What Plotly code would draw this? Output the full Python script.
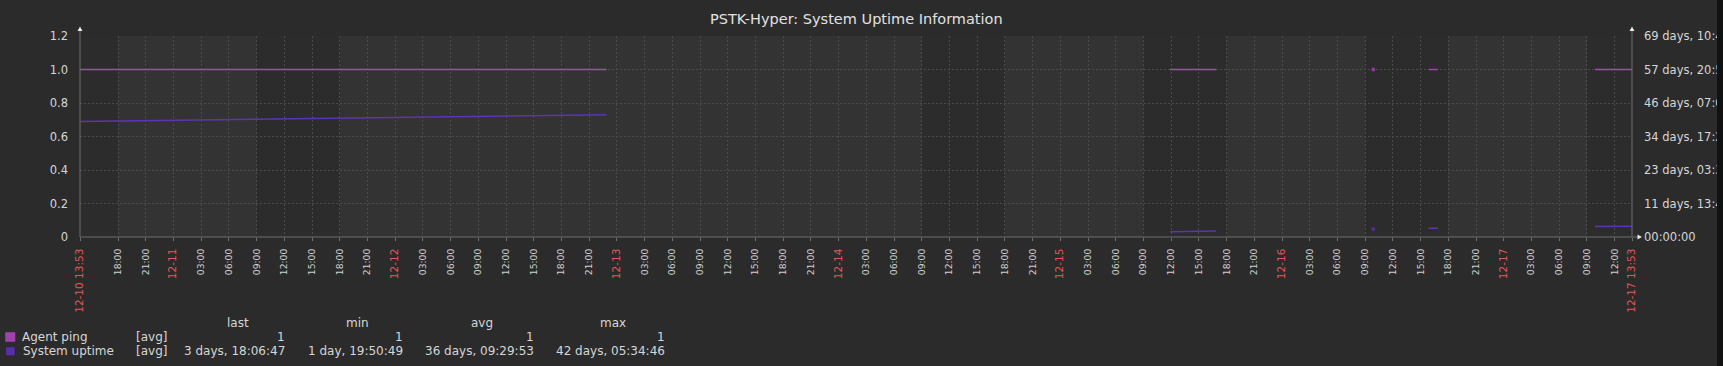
import plotly.graph_objects as go
import pandas as pd

# ---------------- data ----------------
TITLE = "PSTK-Hyper: System Uptime Information"
RANGE_START = "2023-12-10 13:53"
RANGE_END = "2023-12-17 13:53"

ping_time = ["2023-12-10 13:53", "2023-12-12 22:53", "2023-12-14 00:00",
             "2023-12-15 11:53", "2023-12-15 16:53", "2023-12-16 00:00",
             "2023-12-16 09:53", "2023-12-16 12:00",
             "2023-12-16 15:53", "2023-12-16 16:53", "2023-12-17 00:00",
             "2023-12-17 09:53", "2023-12-17 13:53"]
ping_value = [1, 1, None, 1, 1, None, 1, None, 1, 1, None, 1, 1]

uptime_time = ping_time
uptime_value = [3444286, 3649486, None, 157849, 175849, None, 237000, None,
                258000, 261600, None, 310007, 324407]  # seconds

shaded_days = ["2023-12-10", "2023-12-11", "2023-12-14", "2023-12-15",
               "2023-12-16", "2023-12-17"]

left_ticks = [0, 0.2, 0.4, 0.6, 0.8, 1.0, 1.2]
left_tick_labels = ["0", "0.2", "0.4", "0.6", "0.8", "1.0", "1.2"]
right_ticks = [0, 1000000, 2000000, 3000000, 4000000, 5000000, 6000000]

legend_names = ["Agent ping", "System uptime"]
legend_func = ["[avg]", "[avg]"]
stat_headers = ["last", "min", "avg", "max"]
stat_ping = ["1", "1", "1", "1"]
stat_uptime = ["3 days, 18:06:47", "1 day, 19:50:49", "36 days, 09:29:53", "42 days, 05:34:46"]

# ---------------- styling ----------------
FONT = "DejaVu Sans"
PAGE_BG = "#2b2b2b"
PLOT_BG = "#333333"
SHADE = "#2c2c2c"
GRID = "#4b4b4b"
AXIS = "#6e6e6e"
TXT = "#d6d6d6"
RED = "#e05858"
PING_C = "#b43fc6"
UP_C = "#5e33b6"
PING_LEG = "#9f42ae"
UP_LEG = "#5530a4"

W, H = 1723, 366
PL, PR, PT, PB = 80, 1632, 36, 237


def px(x):
    return (x - PL) / (PR - PL)


def py(y):
    return (PB - y) / (PB - PT)


def fmt_uptime(s):
    s = int(s)
    if s == 0:
        return "00:00:00"
    d, r = divmod(s, 86400)
    h, r = divmod(r, 3600)
    m = r // 60
    return f"{d} days, {h:02d}:{m:02d}"


def iso_sizes(vals):
    out = []
    for i, v in enumerate(vals):
        prev_none = i == 0 or vals[i - 1] is None
        next_none = i == len(vals) - 1 or vals[i + 1] is None
        out.append(3.5 if (v is not None and prev_none and next_none) else 0)
    return out


# x ticks
tick_times = [pd.Timestamp(RANGE_START)] + list(
    pd.date_range("2023-12-10 18:00", "2023-12-17 12:00", freq="3h")) + [pd.Timestamp(RANGE_END)]
tick_text = []
for i, t in enumerate(tick_times):
    if i == 0 or i == len(tick_times) - 1:
        tick_text.append(f'<span style="color:{RED};font-size:10.5px">{t.strftime("%m-%d %H:%M")}</span>')
    elif t.hour == 0 and t.minute == 0:
        tick_text.append(f'<span style="color:{RED};font-size:10.5px">{t.strftime("%m-%d")}</span>')
    else:
        tick_text.append(t.strftime("%H:%M"))

fig = go.Figure()

fig.add_trace(go.Scatter(
    x=ping_time, y=ping_value, mode="lines+markers", name=legend_names[0],
    line=dict(color=PING_C, width=1.3),
    marker=dict(symbol="square", size=iso_sizes(ping_value), color=PING_C, line=dict(width=0)),
    connectgaps=False, showlegend=False, hoverinfo="skip"))
fig.add_trace(go.Scatter(
    x=uptime_time, y=uptime_value, mode="lines+markers", name=legend_names[1], yaxis="y2",
    line=dict(color=UP_C, width=1.5),
    marker=dict(symbol="square", size=iso_sizes(uptime_value), color=UP_C, line=dict(width=0)),
    connectgaps=False, showlegend=False, hoverinfo="skip"))

shapes = []
# work-period shading
for d in shaded_days:
    s = max(pd.Timestamp(d) + pd.Timedelta(hours=9), pd.Timestamp(RANGE_START))
    e = min(pd.Timestamp(d) + pd.Timedelta(hours=18), pd.Timestamp(RANGE_END))
    shapes.append(dict(type="rect", xref="x", yref="paper", x0=s, x1=e, y0=0, y1=1,
                       fillcolor=SHADE, line=dict(width=0), layer="below"))

# axis lines with arrows
shapes += [
    dict(type="line", xref="paper", yref="paper", x0=0, x1=0, y0=0, y1=py(31),
         line=dict(color=AXIS, width=1)),
    dict(type="line", xref="paper", yref="paper", x0=1, x1=1, y0=0, y1=py(31),
         line=dict(color=AXIS, width=1)),
    dict(type="line", xref="paper", yref="paper", x0=0, x1=px(1638), y0=0, y1=0,
         line=dict(color=AXIS, width=1)),
    dict(type="path", xref="paper", yref="paper",
         path=f"M {px(77.5)},{py(31)} L {px(82.5)},{py(31)} L {px(80)},{py(26.5)} Z",
         fillcolor="#e8e8e8", line=dict(width=0)),
    dict(type="path", xref="paper", yref="paper",
         path=f"M {px(1629.5)},{py(31)} L {px(1634.5)},{py(31)} L {px(1632)},{py(26.5)} Z",
         fillcolor="#e8e8e8", line=dict(width=0)),
    dict(type="path", xref="paper", yref="paper",
         path=f"M {px(1637.5)},{py(234.5)} L {px(1637.5)},{py(239.5)} L {px(1642)},{py(237)} Z",
         fillcolor="#e8e8e8", line=dict(width=0)),
    # right-hand dark strip of the page
    dict(type="rect", xref="paper", yref="paper", x0=px(1717), x1=px(1724), y0=py(367), y1=py(-1),
         fillcolor="#111111", line=dict(width=0)),
]

# legend squares
for i, c in enumerate([PING_LEG, UP_LEG]):
    top = 332.5 + i * 14.3
    shapes.append(dict(type="rect", xref="paper", yref="paper",
                       x0=px(5.5), x1=px(15), y0=py(top + 9), y1=py(top),
                       fillcolor=c, line=dict(color="#2a1a40" if i else c, width=0.6)))

annotations = [
    dict(text=TITLE, xref="paper", yref="paper", x=0.5, y=py(18.5), showarrow=False,
         xanchor="center", yanchor="middle", font=dict(family=FONT, size=14.5, color="#e2e2e2")),
]

header_centers = [238, 357, 482, 613]
value_rights = [287, 405, 536, 667]
for h, cx in zip(stat_headers, header_centers):
    annotations.append(dict(text=h, xref="paper", yref="paper", x=px(cx), y=py(322.5),
                            showarrow=False, xanchor="center", yanchor="middle",
                            font=dict(family=FONT, size=12, color=TXT)))
rows = [(legend_names[0], legend_func[0], stat_ping, 336.8),
        (legend_names[1], legend_func[1], stat_uptime, 351)]
for name, fn, stats, yy in rows:
    annotations.append(dict(text=name, xref="paper", yref="paper", x=px(20.5), y=py(yy),
                            showarrow=False, xanchor="left", yanchor="middle",
                            font=dict(family=FONT, size=12, color=TXT)))
    annotations.append(dict(text=fn, xref="paper", yref="paper", x=px(134), y=py(yy),
                            showarrow=False, xanchor="left", yanchor="middle",
                            font=dict(family=FONT, size=12, color=TXT)))
    for v, rx in zip(stats, value_rights):
        annotations.append(dict(text=v, xref="paper", yref="paper", x=px(rx), y=py(yy),
                                showarrow=False, xanchor="right", yanchor="middle",
                                font=dict(family=FONT, size=12, color=TXT)))

fig.update_layout(
    template="none",
    width=W, height=H, autosize=False,
    margin=dict(l=PL, r=W - PR, t=PT, b=H - PB, pad=0, autoexpand=False),
    paper_bgcolor=PAGE_BG, plot_bgcolor=PLOT_BG,
    font=dict(family=FONT, color=TXT),
    shapes=shapes, annotations=annotations,
    xaxis=dict(type="date", range=[RANGE_START, RANGE_END], automargin=False,
               tickmode="array", tickvals=tick_times, ticktext=tick_text,
               tickangle=-90, tickfont=dict(family=FONT, size=9.2, color="#d2d2d2"),
               showgrid=True, gridcolor=GRID, griddash="2px,2px", gridwidth=1,
               showline=False, zeroline=False, ticks="outside", ticklen=3,
               tickcolor=AXIS, ticklabelstandoff=4),
    yaxis=dict(range=[0, 1.2], automargin=False,
               tickmode="array", tickvals=left_ticks, ticktext=left_tick_labels,
               tickfont=dict(family=FONT, size=11.5, color=TXT),
               showgrid=True, gridcolor=GRID, griddash="2px,2px", gridwidth=1,
               showline=False, zeroline=False, ticks="", ticklabelstandoff=11),
    yaxis2=dict(range=[0, 6000000], overlaying="y", side="right", automargin=False,
                tickmode="array", tickvals=right_ticks,
                ticktext=[fmt_uptime(v) for v in right_ticks],
                tickfont=dict(family=FONT, size=11.5, color=TXT),
                showgrid=False, showline=False, zeroline=False, ticks="", ticklabelstandoff=11),
)

fig.write_html(
    "out.html",
    config={"displayModeBar": False},
    post_script="document.body.style.margin='0';document.body.style.overflow='hidden';"
                "document.body.style.background='#2b2b2b';",
)
